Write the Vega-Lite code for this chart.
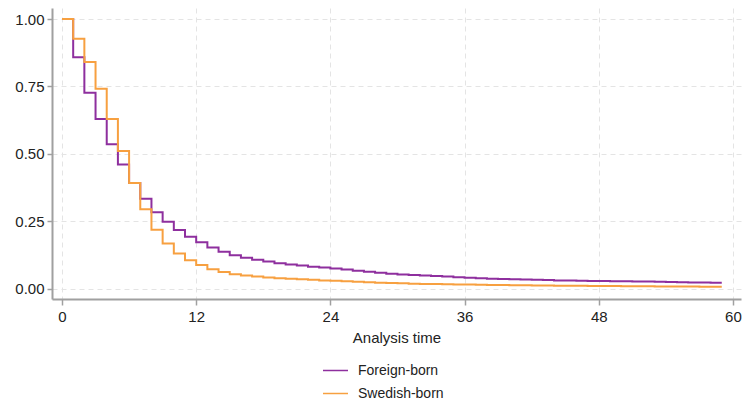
{
  "$schema": "https://vega.github.io/schema/vega-lite/v6.json",
  "width": 689,
  "height": 291,
  "autosize": "none",
  "padding": {"left": 52, "top": 8, "right": 3, "bottom": 105},
  "background": "white",
  "config": {
    "font": "Liberation Sans",
    "view": {"stroke": null}
  },
  "datasets": {
    "km": [
      {"t":0,"s":1.0,"g":"Foreign-born"},{"t":1,"s":0.858,"g":"Foreign-born"},{"t":2,"s":0.727,"g":"Foreign-born"},{"t":3,"s":0.629,"g":"Foreign-born"},{"t":4,"s":0.536,"g":"Foreign-born"},{"t":5,"s":0.461,"g":"Foreign-born"},{"t":6,"s":0.392,"g":"Foreign-born"},{"t":7,"s":0.334,"g":"Foreign-born"},{"t":8,"s":0.284,"g":"Foreign-born"},{"t":9,"s":0.248,"g":"Foreign-born"},{"t":10,"s":0.218,"g":"Foreign-born"},{"t":11,"s":0.193,"g":"Foreign-born"},{"t":12,"s":0.172,"g":"Foreign-born"},{"t":13,"s":0.153,"g":"Foreign-born"},{"t":14,"s":0.137,"g":"Foreign-born"},{"t":15,"s":0.124,"g":"Foreign-born"},{"t":16,"s":0.115,"g":"Foreign-born"},{"t":17,"s":0.108,"g":"Foreign-born"},{"t":18,"s":0.101,"g":"Foreign-born"},{"t":19,"s":0.095,"g":"Foreign-born"},{"t":20,"s":0.09,"g":"Foreign-born"},{"t":21,"s":0.086,"g":"Foreign-born"},{"t":22,"s":0.082,"g":"Foreign-born"},{"t":23,"s":0.079,"g":"Foreign-born"},{"t":24,"s":0.075,"g":"Foreign-born"},{"t":25,"s":0.071,"g":"Foreign-born"},{"t":26,"s":0.067,"g":"Foreign-born"},{"t":27,"s":0.063,"g":"Foreign-born"},{"t":28,"s":0.059,"g":"Foreign-born"},{"t":29,"s":0.056,"g":"Foreign-born"},{"t":30,"s":0.053,"g":"Foreign-born"},{"t":31,"s":0.051,"g":"Foreign-born"},{"t":32,"s":0.049,"g":"Foreign-born"},{"t":33,"s":0.047,"g":"Foreign-born"},{"t":34,"s":0.045,"g":"Foreign-born"},{"t":35,"s":0.043,"g":"Foreign-born"},{"t":36,"s":0.041,"g":"Foreign-born"},{"t":37,"s":0.039,"g":"Foreign-born"},{"t":38,"s":0.037,"g":"Foreign-born"},{"t":39,"s":0.036,"g":"Foreign-born"},{"t":40,"s":0.035,"g":"Foreign-born"},{"t":41,"s":0.034,"g":"Foreign-born"},{"t":42,"s":0.033,"g":"Foreign-born"},{"t":43,"s":0.032,"g":"Foreign-born"},{"t":44,"s":0.031,"g":"Foreign-born"},{"t":45,"s":0.031,"g":"Foreign-born"},{"t":46,"s":0.03,"g":"Foreign-born"},{"t":47,"s":0.029,"g":"Foreign-born"},{"t":48,"s":0.029,"g":"Foreign-born"},{"t":49,"s":0.028,"g":"Foreign-born"},{"t":50,"s":0.028,"g":"Foreign-born"},{"t":51,"s":0.027,"g":"Foreign-born"},{"t":52,"s":0.027,"g":"Foreign-born"},{"t":53,"s":0.026,"g":"Foreign-born"},{"t":54,"s":0.025,"g":"Foreign-born"},{"t":55,"s":0.024,"g":"Foreign-born"},{"t":56,"s":0.023,"g":"Foreign-born"},{"t":57,"s":0.023,"g":"Foreign-born"},{"t":58,"s":0.022,"g":"Foreign-born"},{"t":59,"s":0.022,"g":"Foreign-born"},
      {"t":0,"s":1.0,"g":"Swedish-born"},{"t":1,"s":0.927,"g":"Swedish-born"},{"t":2,"s":0.841,"g":"Swedish-born"},{"t":3,"s":0.742,"g":"Swedish-born"},{"t":4,"s":0.629,"g":"Swedish-born"},{"t":5,"s":0.511,"g":"Swedish-born"},{"t":6,"s":0.392,"g":"Swedish-born"},{"t":7,"s":0.295,"g":"Swedish-born"},{"t":8,"s":0.219,"g":"Swedish-born"},{"t":9,"s":0.168,"g":"Swedish-born"},{"t":10,"s":0.131,"g":"Swedish-born"},{"t":11,"s":0.106,"g":"Swedish-born"},{"t":12,"s":0.088,"g":"Swedish-born"},{"t":13,"s":0.072,"g":"Swedish-born"},{"t":14,"s":0.062,"g":"Swedish-born"},{"t":15,"s":0.054,"g":"Swedish-born"},{"t":16,"s":0.049,"g":"Swedish-born"},{"t":17,"s":0.045,"g":"Swedish-born"},{"t":18,"s":0.042,"g":"Swedish-born"},{"t":19,"s":0.039,"g":"Swedish-born"},{"t":20,"s":0.037,"g":"Swedish-born"},{"t":21,"s":0.035,"g":"Swedish-born"},{"t":22,"s":0.033,"g":"Swedish-born"},{"t":23,"s":0.031,"g":"Swedish-born"},{"t":24,"s":0.03,"g":"Swedish-born"},{"t":25,"s":0.028,"g":"Swedish-born"},{"t":26,"s":0.026,"g":"Swedish-born"},{"t":27,"s":0.024,"g":"Swedish-born"},{"t":28,"s":0.022,"g":"Swedish-born"},{"t":29,"s":0.021,"g":"Swedish-born"},{"t":30,"s":0.02,"g":"Swedish-born"},{"t":31,"s":0.019,"g":"Swedish-born"},{"t":32,"s":0.018,"g":"Swedish-born"},{"t":33,"s":0.018,"g":"Swedish-born"},{"t":34,"s":0.017,"g":"Swedish-born"},{"t":35,"s":0.016,"g":"Swedish-born"},{"t":36,"s":0.016,"g":"Swedish-born"},{"t":37,"s":0.015,"g":"Swedish-born"},{"t":38,"s":0.014,"g":"Swedish-born"},{"t":39,"s":0.014,"g":"Swedish-born"},{"t":40,"s":0.013,"g":"Swedish-born"},{"t":41,"s":0.013,"g":"Swedish-born"},{"t":42,"s":0.012,"g":"Swedish-born"},{"t":43,"s":0.012,"g":"Swedish-born"},{"t":44,"s":0.011,"g":"Swedish-born"},{"t":45,"s":0.011,"g":"Swedish-born"},{"t":46,"s":0.011,"g":"Swedish-born"},{"t":47,"s":0.01,"g":"Swedish-born"},{"t":48,"s":0.01,"g":"Swedish-born"},{"t":49,"s":0.01,"g":"Swedish-born"},{"t":50,"s":0.009,"g":"Swedish-born"},{"t":51,"s":0.009,"g":"Swedish-born"},{"t":52,"s":0.009,"g":"Swedish-born"},{"t":53,"s":0.008,"g":"Swedish-born"},{"t":54,"s":0.008,"g":"Swedish-born"},{"t":55,"s":0.008,"g":"Swedish-born"},{"t":56,"s":0.008,"g":"Swedish-born"},{"t":57,"s":0.007,"g":"Swedish-born"},{"t":58,"s":0.007,"g":"Swedish-born"},{"t":59,"s":0.007,"g":"Swedish-born"}
    ]
  },
  "data": {"name": "km"},
  "mark": {"type": "line", "interpolate": "step-after", "strokeWidth": 2},
  "encoding": {
    "x": {
      "field": "t", "type": "quantitative",
      "scale": {"domain": [-0.894, 60.72], "nice": false, "zero": false},
      "axis": {
        "values": [0, 12, 24, 36, 48, 60],
        "title": "Analysis time",
        "titleFont": "Liberation Sans", "titleFontSize": 15, "titleFontWeight": "normal", "titleColor": "#222",
        "titlePadding": 6,
        "labelFontSize": 15, "labelColor": "#222", "labelPadding": 4,
        "domainColor": "#a0a0a0", "domainWidth": 2,
        "tickColor": "#a0a0a0", "tickWidth": 1.5, "tickSize": 6,
        "grid": true, "gridColor": "#e4e4e4", "gridDash": [5, 4], "gridWidth": 1
      }
    },
    "y": {
      "field": "s", "type": "quantitative",
      "scale": {"domain": [-0.038, 1.041], "nice": false, "zero": false},
      "axis": {
        "values": [0, 0.25, 0.5, 0.75, 1],
        "format": ".2f",
        "title": null,
        "labelFontSize": 15, "labelColor": "#222", "labelPadding": 3,
        "domainColor": "#a0a0a0", "domainWidth": 2,
        "tickColor": "#a0a0a0", "tickWidth": 1.5, "tickSize": 5,
        "grid": true, "gridColor": "#e4e4e4", "gridDash": [5, 4], "gridWidth": 1
      }
    },
    "color": {
      "field": "g", "type": "nominal",
      "scale": {"domain": ["Foreign-born", "Swedish-born"], "range": ["#8e2f9e", "#f7a040"]},
      "legend": {
        "title": null,
        "orient": "none",
        "legendX": 270,
        "legendY": 349,
        "symbolType": "stroke",
        "symbolSize": 625,
        "symbolStrokeWidth": 1.5,
        "labelFontSize": 14,
        "labelColor": "#222",
        "labelOffset": 9,
        "rowPadding": 2
      }
    }
  }
}
